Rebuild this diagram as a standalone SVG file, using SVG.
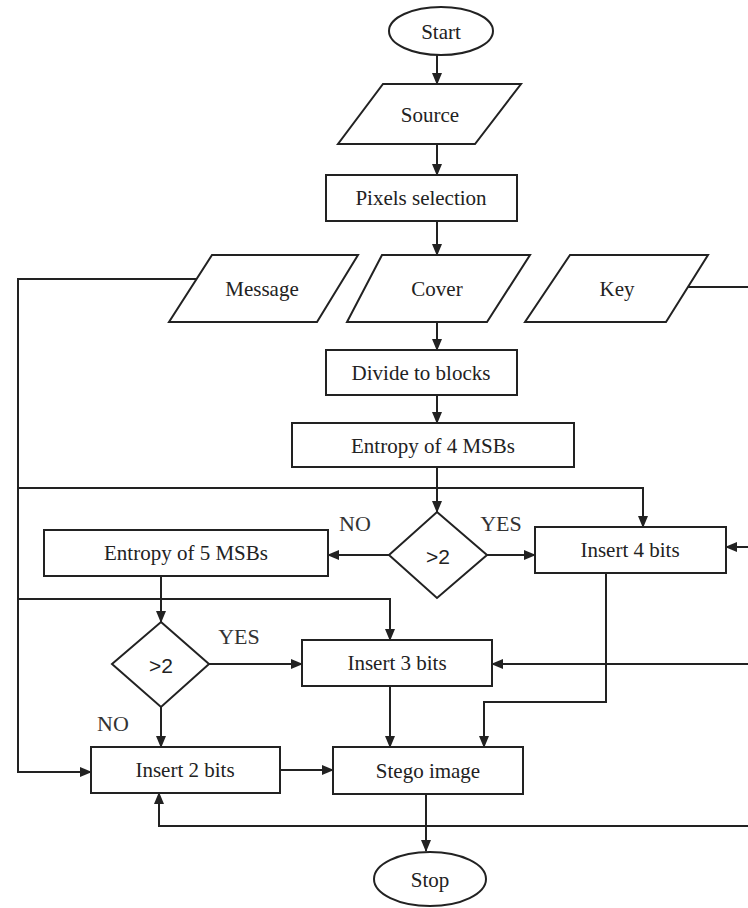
<svg xmlns="http://www.w3.org/2000/svg" width="748" height="908" viewBox="0 0 748 908">
<style>
.shape{fill:#fff;stroke:#222;stroke-width:2}
.lbl{font-family:"Liberation Serif","Times New Roman",serif;font-size:21px;fill:#222;text-anchor:middle;dominant-baseline:central}
.dec{font-family:"Liberation Sans",Arial,sans-serif;font-size:21px;fill:#222;text-anchor:middle;dominant-baseline:central}
.yn{font-family:"Liberation Serif","Times New Roman",serif;font-size:22px;fill:#333;text-anchor:middle;dominant-baseline:central}
.conn path{fill:none;stroke:#222;stroke-width:2}
.arr{marker-end:url(#ah)}
</style>
<defs>
<marker id="ah" markerUnits="userSpaceOnUse" markerWidth="12" markerHeight="10" refX="11" refY="5" orient="auto">
<path d="M0,0 L12,5 L0,10 z" fill="#222"/>
</marker>
</defs>
<rect width="748" height="908" fill="#fff"/>
<g class="conn">
<path class="arr" d="M437,55 V84"/>
<path class="arr" d="M437,144 V175"/>
<path class="arr" d="M437,221 V255"/>
<path class="arr" d="M437,322 V350"/>
<path class="arr" d="M437,395 V423"/>
<path class="arr" d="M437,467 V512"/>
<path class="arr" d="M197,279 H18 V772 H91"/>
<path class="arr" d="M18,488 H643 V527"/>
<path class="arr" d="M18,599 H390 V640"/>
<path class="arr" d="M389,555 H328"/>
<path class="arr" d="M487,555 H535"/>
<path class="arr" d="M688,287 H751 V826 H159 V793"/>
<path class="arr" d="M751,547 H726"/>
<path class="arr" d="M751,664 H492"/>
<path class="arr" d="M161,576 V622"/>
<path class="arr" d="M209,664 H302"/>
<path class="arr" d="M161,707 V747"/>
<path class="arr" d="M606,573 V702 H484 V747"/>
<path class="arr" d="M390,686 V747"/>
<path class="arr" d="M280,770 H333"/>
<path class="arr" d="M426,794 V851"/>
</g>
<g id="start"><ellipse class="shape" cx="441" cy="31" rx="52" ry="24"/><text class="lbl" x="441" y="32">Start</text></g>
<g id="source"><polygon class="shape" points="383,84 521,84 475,144 338,144"/><text class="lbl" x="430" y="115">Source</text></g>
<g id="pixels"><rect class="shape" x="326" y="175" width="191" height="46"/><text class="lbl" x="421" y="198">Pixels selection</text></g>
<g id="message"><polygon class="shape" points="212,255 358,255 317,322 169,322"/><text class="lbl" x="262" y="289">Message</text></g>
<g id="cover"><polygon class="shape" points="382,255 530,255 487,322 347,322"/><text class="lbl" x="437" y="289">Cover</text></g>
<g id="key"><polygon class="shape" points="570,255 708,255 666,322 525,322"/><text class="lbl" x="617" y="289">Key</text></g>
<g id="divide"><rect class="shape" x="326" y="350" width="191" height="45"/><text class="lbl" x="421" y="373">Divide to blocks</text></g>
<g id="entropy4"><rect class="shape" x="292" y="423" width="282" height="44"/><text class="lbl" x="433" y="446">Entropy of 4 MSBs</text></g>
<g id="decision1"><polygon class="shape" points="437,512 487,555 437,598 389,555"/><text class="dec" x="438" y="556">&gt;2</text></g>
<g id="entropy5"><rect class="shape" x="44" y="530" width="284" height="46"/><text class="lbl" x="186" y="553">Entropy of 5 MSBs</text></g>
<g id="insert4"><rect class="shape" x="535" y="527" width="191" height="46"/><text class="lbl" x="630" y="550">Insert 4 bits</text></g>
<g id="decision2"><polygon class="shape" points="161,622 209,664 161,707 112,664"/><text class="dec" x="161" y="665">&gt;2</text></g>
<g id="insert3"><rect class="shape" x="302" y="640" width="190" height="46"/><text class="lbl" x="397" y="663">Insert 3 bits</text></g>
<g id="insert2"><rect class="shape" x="91" y="747" width="189" height="46"/><text class="lbl" x="185" y="770">Insert 2 bits</text></g>
<g id="stego"><rect class="shape" x="333" y="747" width="190" height="47"/><text class="lbl" x="428" y="771">Stego image</text></g>
<g id="stop"><ellipse class="shape" cx="430" cy="879" rx="56" ry="27"/><text class="lbl" x="430" y="880">Stop</text></g>
<g id="labels">
<text class="yn" x="355" y="523">NO</text>
<text class="yn" x="501" y="523">YES</text>
<text class="yn" x="239" y="636">YES</text>
<text class="yn" x="113" y="723">NO</text>
</g>
</svg>
